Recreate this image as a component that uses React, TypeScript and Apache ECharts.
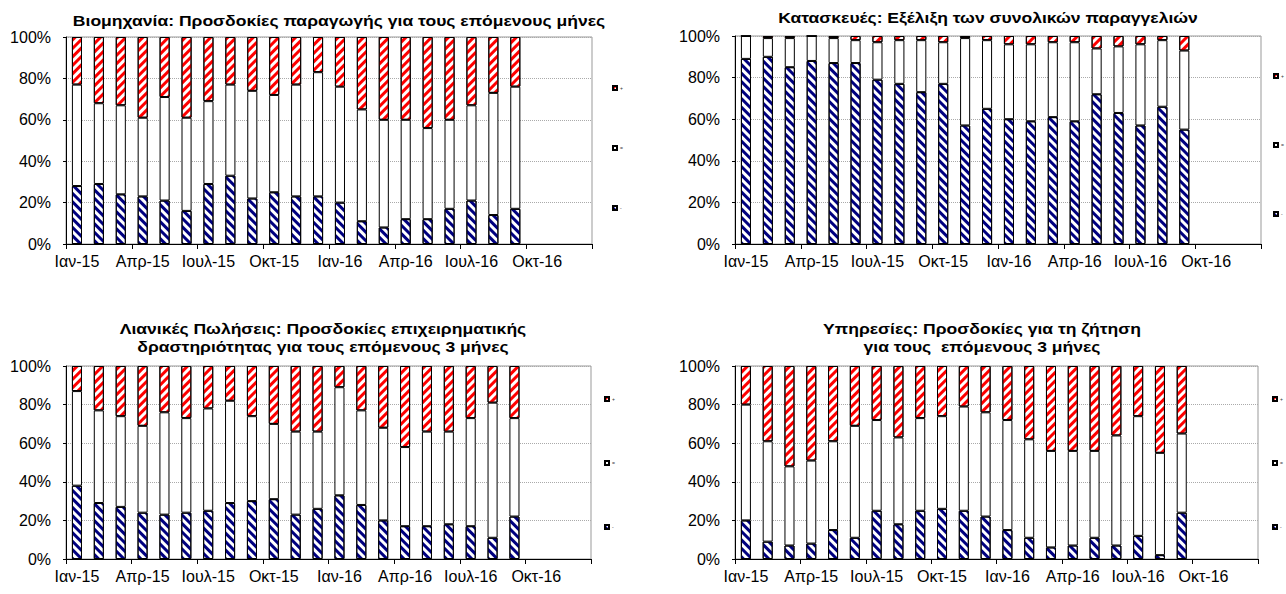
import React, { useEffect, useRef } from "react";
import * as echarts from "echarts";

// 24 monthly categories (Jan-15 .. Dec-16); data for the first 21
const categories = [
  "Ιαν-15", "Φεβ-15", "Μαρ-15", "Απρ-15", "Μαϊ-15", "Ιουν-15",
  "Ιουλ-15", "Αυγ-15", "Σεπ-15", "Οκτ-15", "Νοε-15", "Δεκ-15",
  "Ιαν-16", "Φεβ-16", "Μαρ-16", "Απρ-16", "Μαϊ-16", "Ιουν-16",
  "Ιουλ-16", "Αυγ-16", "Σεπ-16", "Οκτ-16", "Νοε-16", "Δεκ-16",
];

const seriesNames = ["-", "=", "+"];

// Panel 1: Industry
const industryMinus = [28, 29, 24, 23, 21, 16, 29, 33, 22, 25, 23, 23, 20, 11, 8, 12, 12, 17, 21, 14, 17];
const industryEqual = [49, 39, 43, 38, 50, 45, 40, 44, 52, 47, 54, 60, 56, 54, 52, 48, 44, 43, 46, 59, 59];
const industryPlus = [23, 32, 33, 39, 29, 39, 31, 23, 26, 28, 23, 17, 24, 35, 40, 40, 44, 40, 33, 27, 24];

// Panel 2: Construction
const constructionMinus = [89, 90, 85, 88, 87, 87, 79, 77, 73, 77, 57, 65, 60, 59, 61, 59, 72, 63, 57, 66, 55];
const constructionEqual = [11, 9, 14, 12, 12, 11, 18, 21, 25, 20, 42, 33, 36, 37, 36, 38, 22, 32, 39, 32, 38];
const constructionPlus = [0, 1, 1, 0, 1, 2, 3, 2, 2, 3, 1, 2, 4, 4, 3, 3, 6, 5, 4, 2, 7];

// Panel 3: Retail
const retailMinus = [38, 29, 27, 24, 23, 24, 25, 29, 30, 31, 23, 26, 33, 28, 20, 17, 17, 18, 17, 11, 22];
const retailEqual = [49, 48, 47, 45, 53, 49, 53, 53, 44, 39, 43, 40, 56, 49, 48, 41, 49, 48, 56, 70, 51];
const retailPlus = [13, 23, 26, 31, 24, 27, 22, 18, 26, 30, 34, 34, 11, 23, 32, 42, 34, 34, 27, 19, 27];

// Panel 4: Services
const servicesMinus = [20, 9, 7, 8, 15, 11, 25, 18, 25, 26, 25, 22, 15, 11, 6, 7, 11, 7, 12, 2, 24];
const servicesEqual = [60, 52, 41, 43, 46, 58, 47, 45, 48, 48, 54, 54, 57, 51, 50, 49, 45, 57, 62, 53, 41];
const servicesPlus = [20, 39, 52, 49, 39, 31, 28, 37, 27, 26, 21, 24, 28, 38, 44, 44, 44, 36, 26, 45, 35];

const titles = [
  ["Βιομηχανία: Προσδοκίες παραγωγής για τους επόμενους μήνες"],
  ["Κατασκευές: Εξέλιξη των συνολικών παραγγελιών"],
  ["Λιανικές Πωλήσεις: Προσδοκίες επιχειρηματικής", "δραστηριότητας για τους επόμενους 3 μήνες"],
  ["Υπηρεσίες: Προσδοκίες για τη ζήτηση", "για τους  επόμενους 3 μήνες"],
];

const panelData = [
  [industryMinus, industryEqual, industryPlus],
  [constructionMinus, constructionEqual, constructionPlus],
  [retailMinus, retailEqual, retailPlus],
  [servicesMinus, servicesEqual, servicesPlus],
];

const FONT = '"Liberation Sans", Arial, sans-serif';

// layout
const grids = [
  { left: 66, top: 37, width: 526, height: 207 },
  { left: 735, top: 36, width: 526, height: 208 },
  { left: 66, top: 366, width: 525, height: 193 },
  { left: 735, top: 366, width: 523, height: 193 },
];
const titleLayout = [
  { x: 339, ys: [20] },
  { x: 988, ys: [17] },
  { x: 323, ys: [328, 346] },
  { x: 982, ys: [328, 346] },
];
const legendLayout = [
  { left: 612, top: 85, gap: 54 },
  { left: 1273, top: 73, gap: 63 },
  { left: 604, top: 396, gap: 58 },
  { left: 1272, top: 396, gap: 58 },
];

const fills = [
  { color: "#000080", rotation: Math.PI / 4 },
  null,
  { color: "#FF0000", rotation: -Math.PI / 4 },
];

function buildOption() {
  const xAxis: any[] = [];
  const yAxis: any[] = [];
  const series: any[] = [];
  const legend: any[] = [];
  const graphic: any[] = [];

  grids.forEach((g, p) => {
    xAxis.push({
      type: "category",
      gridIndex: p,
      data: categories,
      boundaryGap: true,
      axisLine: { show: true, lineStyle: { color: "#000", width: 1 } },
      axisTick: { show: true, interval: 2, inside: false, length: 5, lineStyle: { color: "#000" } },
      axisLabel: { interval: 2, color: "#000", fontSize: 16, fontFamily: FONT, margin: 9 },
      splitLine: { show: false },
    });
    yAxis.push({
      type: "value",
      gridIndex: p,
      min: 0,
      max: 100,
      interval: 20,
      axisLine: { show: true, lineStyle: { color: "#000", width: 1 } },
      axisTick: { show: true, length: 3, lineStyle: { color: "#000" } },
      axisLabel: { formatter: "{value}%", color: "#000", fontSize: 16, fontFamily: FONT, margin: 15 },
      splitLine: { show: true, lineStyle: { color: "#aaa", type: "dotted", width: 1 } },
    });
    panelData[p].forEach((vals, s) => {
      const f = fills[s];
      const itemStyle: any = { color: "#fff", borderColor: "#000", borderWidth: 1 };
      if (f) {
        itemStyle.decal = {
          symbol: "rect",
          symbolSize: 1,
          color: f.color,
          backgroundColor: "#fff",
          dashArrayX: [1, 0],
          dashArrayY: [2.5, 2.5],
          rotation: f.rotation,
        };
      }
      series.push({
        name: seriesNames[s],
        type: "bar",
        xAxisIndex: p,
        yAxisIndex: p,
        stack: "panel" + p,
        barWidth: "46%",
        data: vals,
        itemStyle,
        emphasis: { disabled: true },
      });
    });
    const lg = legendLayout[p];
    legend.push({
      data: ["+", "=", "-"],
      orient: "vertical",
      left: lg.left,
      top: lg.top,
      padding: 0,
      itemWidth: 4,
      itemHeight: 4,
      itemGap: lg.gap,
      icon: "rect",
      selectedMode: false,
      textStyle: { fontSize: 5, color: "#333", fontFamily: FONT, padding: [0, 0, 0, -2] },
    });
    const tl = titleLayout[p];
    titles[p].forEach((line, i) => {
      graphic.push({
        type: "text",
        x: tl.x,
        y: tl.ys[i],
        scaleX: 1.17,
        style: {
          text: line,
          font: `bold 15px ${FONT}`,
          fill: "#000",
          align: "center",
          verticalAlign: "middle",
        },
      });
    });
  });

  return {
    animation: false,
    backgroundColor: "#fff",
    grid: grids.map((g) => ({
      ...g,
      show: true,
      borderColor: "#999",
      borderWidth: 1,
      backgroundColor: "transparent",
      containLabel: false,
    })),
    xAxis,
    yAxis,
    series,
    legend,
    graphic,
  };
}

export default function App() {
  const ref = useRef<HTMLDivElement>(null);
  useEffect(() => {
    if (!ref.current) return;
    const chart = echarts.init(ref.current, undefined, { renderer: "svg" });
    chart.setOption(buildOption() as any);
    return () => chart.dispose();
  }, []);
  return (
    <div
      ref={ref}
      style={{ position: "absolute", left: 0, top: 0, width: 1286, height: 594, background: "#fff" }}
    />
  );
}
